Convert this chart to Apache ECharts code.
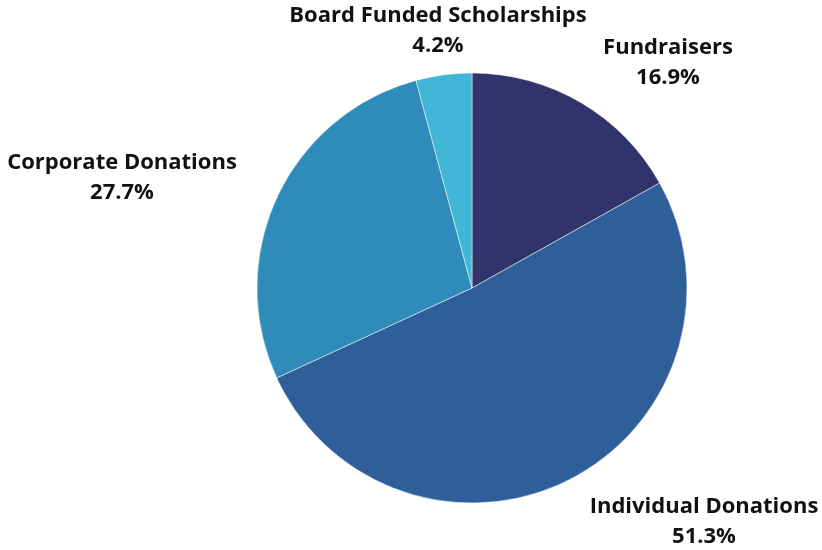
<!DOCTYPE html>
<html>
<head>
<meta charset="utf-8">
<script src="https://cdn.jsdelivr.net/npm/echarts@6/dist/echarts.min.js"></script>
<style>
  html, body { margin: 0; padding: 0; background: #fff; }
  #chart { width: 822px; height: 550px; }
</style>
</head>
<body>
<div id="chart"></div>
<script>
const categories = ['Fundraisers', 'Individual Donations', 'Corporate Donations', 'Board Funded Scholarships']
const values = [16.9, 51.3, 27.7, 4.2]
const colors = ['#31346b', '#2e5f99', '#2e8bba', '#41b6d6']

// label anchor offsets from pie centre (text is centred on these)
const labelOffsets = [[196, -225], [232, 234], [-350, -110], [-34, -257]]

const center = [472, 288]
const chart = echarts.init(document.getElementById('chart'))

chart.setOption({
  animation: false,
  color: colors,
  series: [{
    type: 'pie',
    center: center,
    radius: 215,
    startAngle: 90,
    clockwise: true,
    data: categories.map((name, i) => ({ name, value: values[i] })),
    itemStyle: { borderColor: '#ffffff', borderWidth: 0.5 },
    label: {
      show: true,
      position: 'outside',
      formatter: p => p.name + '\n' + p.value.toFixed(1) + '%',
      fontFamily: 'Open Sans',
      fontWeight: 'bold',
      fontSize: 22,
      lineHeight: 30,
      color: '#111',
      overflow: 'none',
      bleedMargin: 0
    },
    labelLine: { show: false },
    labelLayout: params => ({
      x: center[0] + labelOffsets[params.dataIndex][0],
      y: center[1] + labelOffsets[params.dataIndex][1],
      align: 'center',
      verticalAlign: 'middle',
      width: 300
    })
  }]
})
</script>
</body>
</html>
